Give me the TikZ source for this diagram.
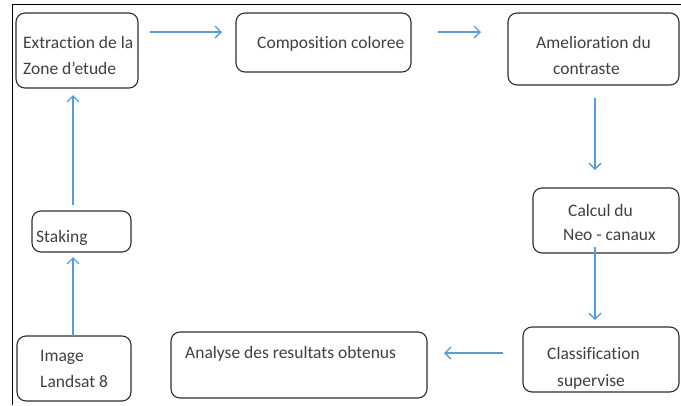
\documentclass[tikz,border=0pt]{standalone}
\usepackage{fontspec}
\setmainfont[Ligatures={NoCommon}]{Carlito}
\usetikzlibrary{arrows.meta}
\definecolor{arr}{HTML}{5B9BD5}
\definecolor{txt}{HTML}{404040}
\definecolor{bord}{HTML}{2E2E2E}
\tikzset{
  box/.style={draw=bord, line width=1.1pt, rounded corners=9pt, fill=white},
  lbl/.style={text=txt, font=\fontsize{17.5}{20}\selectfont, inner sep=0pt, anchor=base west},
  flow/.style={draw=arr, line width=1.3pt, -{Straight Barb[length=6pt,width=12pt,line width=1.3pt]}}
}
\begin{document}
\begin{tikzpicture}[x=1pt,y=-1pt]
\useasboundingbox (0,0) rectangle (681,405);
% frame
\draw[line width=1pt, black] (12,405) -- (12,4) -- (681,4);
% boxes
\draw[box] (16,13) rectangle (138,88);
\draw[box] (236,13) rectangle (411,72);
\draw[box] (508,13) rectangle (679,85);
\draw[box] (32,211) rectangle (131,252);
\draw[box] (17,336) rectangle (131,401);
\draw[box] (533,188) rectangle (679,253);
\draw[box] (523,327) rectangle (679,392);
\draw[box] (171,332) rectangle (427,398);
% texts
\node[lbl] (t1a) at (23,48) {Extraction de la};
\node[lbl] (t1b) at (23,74) {Zone d’etude};
\node[lbl] (t2) at (257,48) {Composition coloree};
\node[lbl] (t3a) at (536,48) {Amelioration du};
\node[lbl] (t3b) at (553,74) {contraste};
\node[lbl] (t4) at (36,242) {Staking};
\node[lbl] (t5a) at (40,361) {Image};
\node[lbl] (t5b) at (40,387) {Landsat 8};
\node[lbl] (t6a) at (568,216) {Calcul du};
\node[lbl] (t6b) at (563,240) {Neo - canaux};
\node[lbl] (t7a) at (547,359) {Classification};
\node[lbl] (t7b) at (557,386) {supervise};
\node[lbl] (t8) at (185,358) {Analyse des resultats obtenus};
% connector endpoints
\coordinate (a1s) at (150,32); \coordinate (a1e) at (222,32);
\coordinate (a2s) at (438,32); \coordinate (a2e) at (481,32);
\coordinate (a3s) at (595,98); \coordinate (a3e) at (595,170);
\coordinate (a4s) at (595,247); \coordinate (a4e) at (595,320);
\coordinate (a5s) at (503,353); \coordinate (a5e) at (444,353);
\coordinate (a6s) at (73,336); \coordinate (a6e) at (73,257);
\coordinate (a7s) at (73,205); \coordinate (a7e) at (73,95);
\draw[flow] (a1s) -- (a1e);
\draw[flow] (a2s) -- (a2e);
\draw[flow] (a3s) -- (a3e);
\draw[flow] (a4s) -- (a4e);
\draw[flow] (a5s) -- (a5e);
\draw[flow] (a6s) -- (a6e);
\draw[flow] (a7s) -- (a7e);
\end{tikzpicture}
\end{document}
